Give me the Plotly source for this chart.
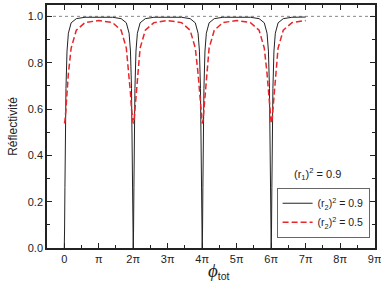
import plotly.graph_objects as go

# phase in units of pi
phi_over_pi = [
    0.0, 0.005, 0.01, 0.02, 0.03, 0.05, 0.08, 0.12, 0.2, 0.35, 0.6, 1.0,
    1.4, 1.65, 1.8, 1.88, 1.92, 1.95, 1.97, 1.98, 1.99, 1.995,
    2.0, 2.005, 2.01, 2.02, 2.03, 2.05, 2.08, 2.12, 2.2, 2.35, 2.6, 3.0,
    3.4, 3.65, 3.8, 3.88, 3.92, 3.95, 3.97, 3.98, 3.99, 3.995,
    4.0, 4.005, 4.01, 4.02, 4.03, 4.05, 4.08, 4.12, 4.2, 4.35, 4.6, 5.0,
    5.4, 5.65, 5.8, 5.88, 5.92, 5.95, 5.97, 5.98, 5.99, 5.995,
    6.0, 6.005, 6.01, 6.02, 6.03, 6.05, 6.08, 6.12, 6.2, 6.35, 6.6, 7.0,
]

refl_r2_09 = [
    0.0, 0.022, 0.082, 0.262, 0.444, 0.689, 0.850, 0.927, 0.972, 0.990, 0.996, 0.997,
    0.996, 0.990, 0.972, 0.927, 0.850, 0.689, 0.444, 0.262, 0.082, 0.022,
    0.0, 0.022, 0.082, 0.262, 0.444, 0.689, 0.850, 0.927, 0.972, 0.990, 0.996, 0.997,
    0.996, 0.990, 0.972, 0.927, 0.850, 0.689, 0.444, 0.262, 0.082, 0.022,
    0.0, 0.022, 0.082, 0.262, 0.444, 0.689, 0.850, 0.927, 0.972, 0.990, 0.996, 0.997,
    0.996, 0.990, 0.972, 0.927, 0.850, 0.689, 0.444, 0.262, 0.082, 0.022,
    0.0, 0.022, 0.082, 0.262, 0.444, 0.689, 0.850, 0.927, 0.972, 0.990, 0.996, 0.997,
]

refl_r2_05 = [
    0.538, 0.539, 0.541, 0.549, 0.562, 0.599, 0.668, 0.753, 0.863, 0.940, 0.973, 0.982,
    0.973, 0.940, 0.863, 0.753, 0.668, 0.599, 0.562, 0.549, 0.541, 0.539,
    0.538, 0.539, 0.541, 0.549, 0.562, 0.599, 0.668, 0.753, 0.863, 0.940, 0.973, 0.982,
    0.973, 0.940, 0.863, 0.753, 0.668, 0.599, 0.562, 0.549, 0.541, 0.539,
    0.538, 0.539, 0.541, 0.549, 0.562, 0.599, 0.668, 0.753, 0.863, 0.940, 0.973, 0.982,
    0.973, 0.940, 0.863, 0.753, 0.668, 0.599, 0.562, 0.549, 0.541, 0.539,
    0.538, 0.539, 0.541, 0.549, 0.562, 0.599, 0.668, 0.753, 0.863, 0.940, 0.973, 0.982,
]

x_tick_vals = [0, 1, 2, 3, 4, 5, 6, 7, 8, 9]
x_tick_text = ["0", "π", "2π", "3π", "4π", "5π", "6π", "7π", "8π", "9π"]
y_tick_vals = [0.0, 0.2, 0.4, 0.6, 0.8, 1.0]
y_tick_text = ["0.0", "0.2", "0.4", "0.6", "0.8", "1.0"]

fig = go.Figure()
fig.add_trace(go.Scatter(
    x=phi_over_pi, y=refl_r2_09, mode="lines",
    line=dict(color="#222222", width=1),
    name="(r<sub>2</sub>)<sup>2</sup> = 0.9",
))
fig.add_trace(go.Scatter(
    x=phi_over_pi, y=refl_r2_05, mode="lines",
    line=dict(color="#e8262a", width=1.5, dash="6px,3px"),
    name="(r<sub>2</sub>)<sup>2</sup> = 0.5",
))

fig.add_shape(type="line", xref="x", yref="y", x0=-0.5, x1=9, y0=1.0, y1=1.0,
              line=dict(color="#888888", width=1, dash="dot"), layer="below")

axis_common = dict(
    showline=True, linecolor="#222222", linewidth=1.5, mirror="allticks",
    ticks="inside", ticklen=5, tickwidth=1, tickcolor="#222222",
    showgrid=False, zeroline=False, automargin=False,
    tickfont=dict(family="Liberation Sans, Arial", size=11, color="#222222"),
)

fig.update_xaxes(
    range=[-0.5, 9.01], tickmode="array", tickvals=x_tick_vals, ticktext=x_tick_text,
    ticklabeloverflow="allow",
    minor=dict(ticks="inside", ticklen=3, tickcolor="#222222", tickmode="linear",
               tick0=0.5, dtick=1),
    **axis_common,
)
fig.update_yaxes(
    range=[0, 1.049], tickmode="array", tickvals=y_tick_vals, ticktext=y_tick_text,
    minor=dict(ticks="inside", ticklen=3, tickcolor="#222222", tickmode="linear",
               tick0=0.1, dtick=0.2),
    title=dict(text="Réflectivité",
               font=dict(family="Liberation Sans, Arial", size=12, color="#222222"),
               standoff=8),
    **axis_common,
)

# x-axis title drawn as an annotation for precise placement
fig.add_annotation(
    text="<span style='font-family:Liberation Serif;font-size:19px'><i>ϕ</i></span><sub>tot</sub>",
    xref="paper", yref="paper", x=0.524, y=-0.046, xanchor="center", yanchor="top",
    showarrow=False, borderpad=0,
    font=dict(family="Liberation Sans, Arial", size=15, color="#222222"),
)

fig.add_annotation(
    text="(r<sub>1</sub>)<sup>2</sup> = 0.9", xref="paper", yref="paper",
    x=0.826, y=0.305, xanchor="center", yanchor="middle", showarrow=False,
    font=dict(family="Liberation Sans, Arial", size=11, color="#222222"),
)

fig.update_layout(
    width=381, height=282,
    margin=dict(l=47, r=6, t=5, b=34),
    paper_bgcolor="white", plot_bgcolor="white",
    showlegend=True,
    legend=dict(
        x=0.70, y=0.248, xanchor="left", yanchor="top",
        bordercolor="#666666", borderwidth=1, bgcolor="white",
        font=dict(family="Liberation Sans, Arial", size=10.5, color="#222222"),
        tracegroupgap=0, itemwidth=30,
    ),
)

fig.write_html("out.html")
